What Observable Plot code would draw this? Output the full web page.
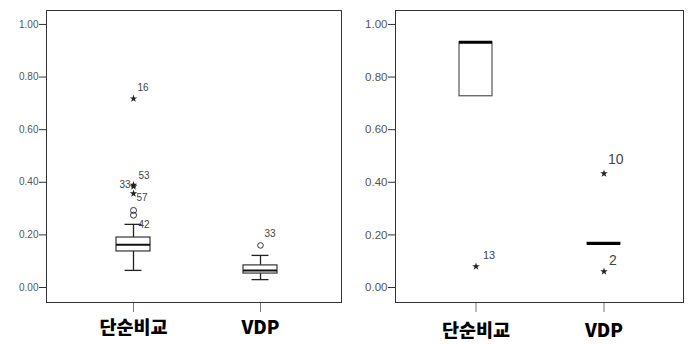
<!DOCTYPE html>
<html>
<head>
<meta charset="utf-8">
<script src="https://cdn.jsdelivr.net/npm/d3@7"></script>
<script src="https://cdn.jsdelivr.net/npm/@observablehq/plot@0.6"></script>
<style>
  body { margin: 0; background: #fff; }
  #wrap { display: flex; width: 692px; height: 345px; }
</style>
</head>
<body>
<div id="wrap"></div>
<script>
// ---- data ----
const categories = ["단순비교", "VDP"];
const yTicks = [0, 0.2, 0.4, 0.6, 0.8, 1.0];

// left panel box statistics
const leftLow    = [0.065, 0.030];
const leftQ1     = [0.137, 0.053];
const leftMedian = [0.163, 0.065];
const leftQ3     = [0.190, 0.084];
const leftHigh   = [0.240, 0.122];

// left panel outliers
const leftStar16 = [{cat: "단순비교", v: 0.718, label: "16"}];
const leftStar53 = [{cat: "단순비교", v: 0.390, label: "53"}];
const leftStar33 = [{cat: "단순비교", v: 0.384, label: "33"}];
const leftStar57 = [{cat: "단순비교", v: 0.357, label: "57"}];
const leftCircles8 = [{cat: "단순비교", v: 0.293}, {cat: "단순비교", v: 0.275}];
const leftLabel42 = [{cat: "단순비교", v: 0.240, label: "42"}];
const leftCircle33 = [{cat: "VDP", v: 0.160, label: "33"}];

// right panel box statistics
const rightQ1     = [0.727, 0.163];
const rightMedian = [0.932, 0.167];
const rightQ3     = [0.932, 0.170];

// right panel outliers
const rightStar13 = [{cat: "단순비교", v: 0.080, label: "13"}];
const rightStar10 = [{cat: "VDP", v: 0.433, label: "10"}];
const rightStar2  = [{cat: "VDP", v: 0.061, label: "2"}];

// ---- build ----
const leftBoxes = categories.map((c, i) => ({cat: c, low: leftLow[i], q1: leftQ1[i], med: leftMedian[i], q3: leftQ3[i], high: leftHigh[i]}));
const rightBoxes = categories.map((c, i) => ({cat: c, q1: rightQ1[i], med: rightMedian[i], q3: rightQ3[i]}));

const fmt = d3.format(".2f");
const latin = "Liberation Sans, Arial, sans-serif";
const korean = "'Noto Sans CJK KR', sans-serif";
const ink = "#2a2a2a";

function base(opts) {
  return {
    width: 346, height: 345,
    marginTop: 10, marginBottom: 43,
    style: {fontFamily: latin, background: "#fff", overflow: "visible", color: ink},
    y: {domain: [-0.057, 1.053], label: null},
    ...opts
  };
}

const left = Plot.plot(base({
  marginLeft: 46, marginRight: 5,
  x: {domain: categories, paddingInner: 0.734, paddingOuter: 0.52, align: 0.52, label: null},
  marks: [
    Plot.axisY({ticks: yTicks, tickFormat: fmt, tickSize: 7, tickPadding: 1, fontSize: 10, stroke: "#333", fill: "#555", label: null}),
    Plot.axisX({tickSize: 10, tickPadding: 8, fontSize: 18.5, fontWeight: 900, fontFamily: korean, stroke: "#777", fill: "#000", label: null}),
    Plot.ruleX(leftBoxes, {x: "cat", y1: "low", y2: "q1", stroke: "#222", strokeWidth: 1.3}),
    Plot.ruleX(leftBoxes, {x: "cat", y1: "q3", y2: "high", stroke: "#222", strokeWidth: 1.3}),
    Plot.tickY(leftBoxes, {x: "cat", y: "low", insetLeft: 8.5, insetRight: 8.5, stroke: "#222", strokeWidth: 1.3}),
    Plot.tickY(leftBoxes, {x: "cat", y: "high", insetLeft: 8.5, insetRight: 8.5, stroke: "#222", strokeWidth: 1.3}),
    Plot.rectY(leftBoxes, {x: "cat", y1: "q1", y2: "q3", fill: "#fff", stroke: "#333", strokeWidth: 1.2}),
    Plot.tickY(leftBoxes, {x: "cat", y: "med", stroke: "#111", strokeWidth: 2}),
    Plot.dot([...leftStar16, ...leftStar53, ...leftStar33, ...leftStar57], {x: "cat", y: "v", symbol: "star", r: 2.4, fill: "#222", stroke: null}),
    Plot.dot(leftCircles8, {x: "cat", y: "v", symbol: "circle", r: 3, fill: "none", stroke: "#333", strokeWidth: 1}),
    Plot.dot(leftCircle33, {x: "cat", y: "v", symbol: "circle", r: 2.8, fill: "none", stroke: "#333", strokeWidth: 1}),
    Plot.text(leftStar16, {x: "cat", y: "v", text: "label", dx: 4, dy: -11, textAnchor: "start", fontSize: 10, fill: "#444"}),
    Plot.text(leftStar53, {x: "cat", y: "v", text: "label", dx: 5, dy: -9, textAnchor: "start", fontSize: 10, fill: "#444"}),
    Plot.text(leftStar33, {x: "cat", y: "v", text: "label", dx: -3, dy: -2, textAnchor: "end", fontSize: 10, fill: "#444"}),
    Plot.text(leftStar57, {x: "cat", y: "v", text: "label", dx: 3, dy: 4, textAnchor: "start", fontSize: 10, fill: "#444"}),
    Plot.text(leftLabel42, {x: "cat", y: "v", text: "label", dx: 5, dy: 0, textAnchor: "start", fontSize: 10, fill: "#444"}),
    Plot.text(leftCircle33, {x: "cat", y: "v", text: "label", dx: 4, dy: -12, textAnchor: "start", fontSize: 10, fill: "#444"}),
    Plot.frame({stroke: "#333"})
  ]
}));

const right = Plot.plot(base({
  marginLeft: 49, marginRight: 9,
  x: {domain: categories, paddingInner: 0.744, paddingOuter: 0.49, align: 0.5, label: null},
  marks: [
    Plot.axisY({ticks: yTicks, tickFormat: fmt, tickSize: 7, tickPadding: 1, fontSize: 11.5, stroke: "#333", fill: "#555", label: null}),
    Plot.axisX({tickSize: 10, tickPadding: 11, fontSize: 18.5, fontWeight: 900, fontFamily: korean, stroke: "#777", fill: "#000", label: null}),
    Plot.rectY(rightBoxes, {x: "cat", y1: "q1", y2: "q3", fill: "#fff", stroke: "#555", strokeWidth: 1.2}),
    Plot.tickY(rightBoxes, {x: "cat", y: "med", stroke: "#000", strokeWidth: 3}),
    Plot.dot([...rightStar13, ...rightStar10, ...rightStar2], {x: "cat", y: "v", symbol: "star", r: 2.4, fill: "#222", stroke: null}),
    Plot.text(rightStar13, {x: "cat", y: "v", text: "label", dx: 7, dy: -11, textAnchor: "start", fontSize: 11, fill: "#444"}),
    Plot.text(rightStar10, {x: "cat", y: "v", text: "label", dx: 4, dy: -14, textAnchor: "start", fontSize: 14, fill: "#444"}),
    Plot.text(rightStar2,  {x: "cat", y: "v", text: "label", dx: 5, dy: -11, textAnchor: "start", fontSize: 14, fill: "#444"}),
    Plot.frame({stroke: "#333"})
  ]
}));

document.getElementById("wrap").append(left, right);
</script>
</body>
</html>
